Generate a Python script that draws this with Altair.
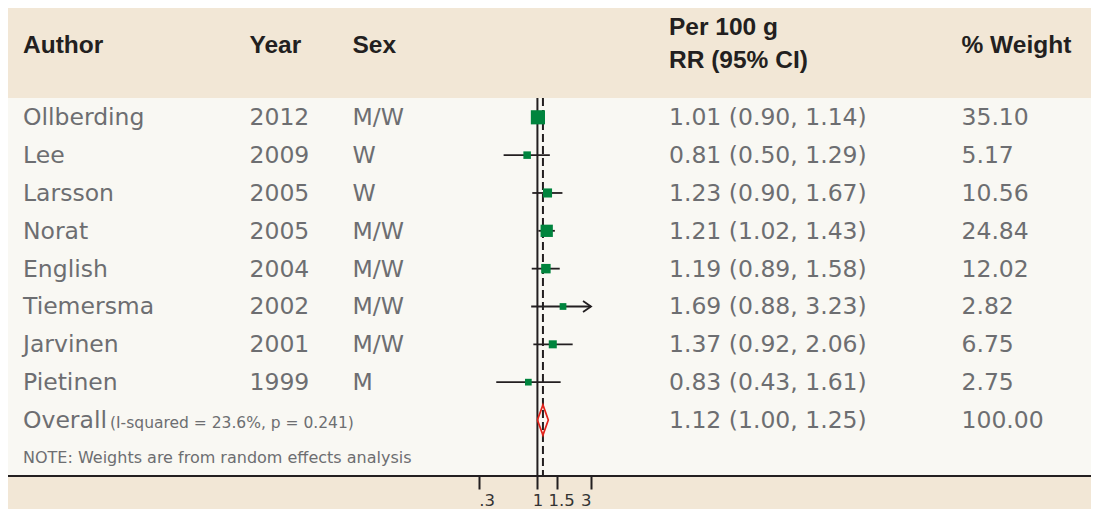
import altair as alt
import pandas as pd

# ---------------- data ----------------
authors = ["Ollberding", "Lee", "Larsson", "Norat", "English", "Tiemersma", "Jarvinen", "Pietinen"]
years = ["2012", "2009", "2005", "2005", "2004", "2002", "2001", "1999"]
sexes = ["M/W", "W", "W", "M/W", "M/W", "M/W", "M/W", "M"]
rr = [1.01, 0.81, 1.23, 1.21, 1.19, 1.69, 1.37, 0.83]
ci_lo = [0.90, 0.50, 0.90, 1.02, 0.89, 0.88, 0.92, 0.43]
ci_hi = [1.14, 1.29, 1.67, 1.43, 1.58, 3.23, 2.06, 1.61]
weights = [35.10, 5.17, 10.56, 24.84, 12.02, 2.82, 6.75, 2.75]

overall_label = "Overall"
overall_stats = "(I-squared = 23.6%, p = 0.241)"
overall_rr = 1.12
overall_lo = 1.00
overall_hi = 1.25
overall_weight = 100.00

axis_ticks = [0.3, 1, 1.5, 3]
axis_min = 0.3
axis_max = 3

header_author = "Author"
header_year = "Year"
header_sex = "Sex"
header_rr = ["Per 100 g", "RR (95% CI)"]
header_weight = "% Weight"
footnote = "NOTE: Weights are from random effects analysis"

# ---------------- tables ----------------
n = len(authors)
studies = pd.DataFrame({
    "row": list(range(n)),
    "author": authors,
    "rr": rr,
    "lo": ci_lo,
    "hi": ci_hi,
    "weight": weights,
})
studies["hi_clip"] = studies["hi"].clip(upper=axis_max)
studies["arrow"] = studies["hi"] > axis_max

table = pd.DataFrame({
    "row": list(range(n + 1)),
    "author": authors + [overall_label],
    "year": years + [""],
    "sex": sexes + [""],
    "ci": [f"{a:.2f} ({b:.2f}, {c:.2f})" for a, b, c in zip(rr, ci_lo, ci_hi)]
          + [f"{overall_rr:.2f} ({overall_lo:.2f}, {overall_hi:.2f})"],
    "w": [f"{w:.2f}" for w in weights] + [f"{overall_weight:.2f}"],
})

half = 0.4
diamond = pd.DataFrame({
    "k": [0, 1, 2, 3, 4],
    "dx": [overall_lo, overall_rr, overall_hi, overall_rr, overall_lo],
    "dy": [n, n - half, n, n + half, n],
})

one = pd.DataFrame({"v": [1.0]})
ov = pd.DataFrame({"v": [overall_rr]})
ticks_df = pd.DataFrame({"t": axis_ticks})
dummy = pd.DataFrame({"a": [0]})

# ---------------- style ----------------
BEIGE = "#f2e7d6"
PANEL = "#f9f8f3"
DARK = "#231f20"
GREY = "#6d6e71"
GREEN = "#00843d"
RED = "#e2231a"
BODY_FONT = "DejaVu Sans"
HEAD_FONT = "Liberation Sans"
W, H = 1083, 468

xscale = alt.Scale(type="log", domain=[axis_min, axis_max], range=[470.7, 583], nice=False)
yscale = alt.Scale(domain=[0, n], range=[109.3, 412], nice=False, zero=False)
xaxis = alt.Axis(
    values=axis_ticks, title=None, grid=False, domain=False,
    tickSize=13, tickWidth=2, tickColor=DARK,
    labelFont=BODY_FONT, labelFontSize=16.5, labelColor="#333333",
    labelPadding=3, labelExpr="replace(datum.value + '', '0.', '.')",
    labelOffset={"condition": {"test": "datum.value == 1.5", "value": 4}, "value": 0},
)

def X(field):
    return alt.X(field, scale=xscale, axis=xaxis)

def Y(field):
    return alt.Y(field, scale=yscale, axis=None)

panel = alt.Chart(dummy).mark_rect(color=PANEL).encode(
    x=alt.value(0), x2=alt.value(W), y=alt.value(90), y2=alt.value(H)
)

null_line = alt.Chart(one).mark_rule(color=DARK, strokeWidth=2).encode(
    x=X("v:Q"), y=alt.value(90), y2=alt.value(H)
)
overall_line = alt.Chart(ov).mark_rule(color=DARK, strokeWidth=2, strokeDash=[8, 4]).encode(
    x=X("v:Q"), y=alt.value(90), y2=alt.value(H)
)

ci = alt.Chart(studies).mark_rule(color=DARK, strokeWidth=1.8).encode(
    x=X("lo:Q"), x2="hi_clip:Q", y=Y("row:Q")
)

arrows = alt.Chart(studies).transform_filter("datum.arrow").mark_point(
    shape="M -1.45 -1 L 0 0 L -1.45 1", filled=False, size=121,
    strokeWidth=1.8, color=DARK, opacity=1
).encode(x=X("hi_clip:Q"), y=Y("row:Q"))

boxes = alt.Chart(studies).mark_square(color=GREEN, opacity=1).encode(
    x=X("rr:Q"), y=Y("row:Q"),
    size=alt.Size("weight:Q", scale=alt.Scale(domain=[0, max(weights)], range=[32, 200]), legend=None),
)

dia = alt.Chart(diamond).mark_line(color=RED, strokeWidth=1.7).encode(
    x=X("dx:Q"), y=Y("dy:Q"), order="k:O"
)

axis_layer = alt.Chart(ticks_df).mark_point(opacity=0).encode(
    x=X("t:Q"), y=alt.value(H),
)

bottom_line = alt.Chart(dummy).mark_rule(color=DARK, strokeWidth=2.2).encode(
    x=alt.value(0), x2=alt.value(W), y=alt.value(H)
)

def col(field, xpos, dy=8):
    return alt.Chart(table).mark_text(
        align="left", baseline="alphabetic", dy=dy, font=BODY_FONT, fontSize=23.5, color=GREY
    ).encode(x=alt.value(xpos), y=Y("row:Q"), text=f"{field}:N")

texts = [col("author", 15), col("year", 241.5), col("sex", 344.5), col("ci", 661), col("w", 953.5)]

stats_txt = alt.Chart(dummy).mark_text(
    align="left", baseline="alphabetic", font=BODY_FONT, fontSize=15.5, color=GREY, text=overall_stats
).encode(x=alt.value(102), y=alt.value(420))

note_txt = alt.Chart(dummy).mark_text(
    align="left", baseline="alphabetic", font=BODY_FONT, fontSize=16, color=GREY, text=footnote
).encode(x=alt.value(15), y=alt.value(455))

def head(label, xpos, ypos):
    return alt.Chart(dummy).mark_text(
        align="left", baseline="alphabetic", font=HEAD_FONT, fontSize=24.5,
        fontWeight="bold", color=DARK, text=label
    ).encode(x=alt.value(xpos), y=alt.value(ypos))

heads = [
    head(header_author, 15, 45),
    head(header_year, 241.5, 45),
    head(header_sex, 344.5, 45),
    head(header_rr[0], 661, 27),
    head(header_rr[1], 661, 60),
    head(header_weight, 953.5, 44.5),
]

chart = alt.layer(
    panel, null_line, overall_line, ci, arrows, boxes, dia, axis_layer, bottom_line,
    *texts, stats_txt, note_txt, *heads
).properties(
    width=W, height=H,
    autosize=alt.AutoSizeParams(type="none"),
    padding={"left": 0, "top": 0, "right": 0, "bottom": 33},
    background=BEIGE,
).configure_view(stroke=None)

chart.save("out.html", embed_options={"renderer": "svg", "actions": False})
